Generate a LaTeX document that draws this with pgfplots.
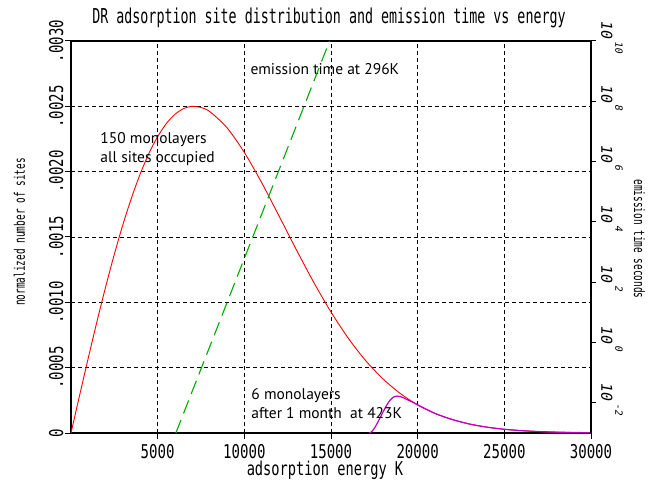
\documentclass[border=0pt]{standalone}
\usepackage{fontspec}
\setmainfont{PT Sans}
\usepackage{pgfplots}
\usepackage{pgfplotstable}
\pgfplotsset{compat=1.18}
\newfontfamily\fmonoA[FakeStretch=0.65]{DejaVu Sans Mono}
\newfontfamily\fmonoB[FakeStretch=0.74]{DejaVu Sans Mono}
\newfontfamily\fmonoC[FakeStretch=0.72]{DejaVu Sans Mono}
\newfontfamily\fmonoO[FakeSlant=0.18]{DejaVu Sans Mono}
\newcommand\ftitle{\fmonoA\fontsize{20.5}{22}\selectfont}
\newcommand\fylab{\fmonoA\fontsize{14.5}{16}\selectfont}
\newcommand\ftick{\fmonoB\fontsize{19}{20}\selectfont}
\newcommand\fxlab{\fmonoC\fontsize{19}{21}\selectfont}
\newcommand\fann{\fontsize{15.5}{17}\selectfont}
\newcommand\rtl[1]{\rotatebox{-90}{{\fmonoO\fontsize{15}{15}\selectfont 10}\hspace{2.5pt}\raisebox{14pt}{\fmonoO\fontsize{10}{10}\selectfont #1}}}
\definecolor{cred}{RGB}{255,0,0}
\definecolor{cmag}{RGB}{190,0,190}
\definecolor{cgreen}{RGB}{0,170,0}

\pgfplotstableread{
E y
0 0
500 0.0002904
1000 0.000576
1500 0.000854
2000 0.001119
2500 0.001368
3000 0.001597
3500 0.001803
4000 0.001985
4500 0.002141
5000 0.002268
5500 0.002368
6000 0.002439
6500 0.002483
7000 0.002500
7500 0.002491
8000 0.002460
9000 0.002336
10000 0.002147
11000 0.001916
12000 0.001661
13000 0.001403
14000 0.001154
15000 0.000926
16000 0.000725
17000 0.000554
18000 0.000414
19000 0.000302
20000 0.000215
21000 0.000150
22000 0.000103
23000 0.0000684
24000 0.0000447
25000 0.0000285
26000 0.0000178
27000 0.0000109
28000 0.0000065
29000 0.0000038
30000 0.0000022
}\redtab

\pgfplotstableread{
E y
17200 0
17300 0.000005
17400 0.000018
17500 0.000036
17600 0.000058
17800 0.000108
18000 0.000160
18200 0.000210
18400 0.000250
18600 0.000275
18800 0.000283
19000 0.000279
19200 0.000268
19400 0.000255
19600 0.000242
19800 0.000230
20000 0.000215
21000 0.000150
22000 0.000103
23000 0.0000684
24000 0.0000447
25000 0.0000285
26000 0.0000178
27000 0.0000109
28000 0.0000065
29000 0.0000038
30000 0.0000022
}\magtab

\begin{document}
\begin{tikzpicture}
\begin{axis}[name=main, scale only axis, width=520pt, height=392pt,
  xmin=0, xmax=30000, ymin=0, ymax=0.003,
  xtick={5000,10000,15000,20000,25000,30000},
  xticklabels={5000,10000,15000,20000,25000,30000},
  ytick={0,0.0005,0.001,0.0015,0.002,0.0025,0.003},
  yticklabels={\rotatebox{90}{0},\rotatebox{90}{.0005},\rotatebox{90}{.0010},\rotatebox{90}{.0015},\rotatebox{90}{.0020},\rotatebox{90}{.0025},\rotatebox{90}{.0030}},
  scaled x ticks=false, scaled y ticks=false,
  xtick pos=bottom, ytick pos=left, tick align=outside,
  major tick length=6pt,
  tick style={black, line width=1pt},
  axis line style={black, line width=1.6pt},
  grid=major, grid style={black, line width=0.7pt, dash pattern=on 4pt off 3pt},
  xticklabel style={font=\ftick, anchor=north, inner sep=0pt},
  yticklabel style={font=\ftick, anchor=east, inner sep=0pt},
  xticklabel shift=5pt, yticklabel shift=1.4pt,
]
\addplot[cred, line width=0.9pt, smooth] table[x=E,y=y]{\redtab};
\addplot[cmag, line width=1.2pt, smooth] table[x=E,y=y]{\magtab};
\node[font=\fann, anchor=base west, inner sep=0pt] at (axis cs:1690,0.002219) {150 monolayers};
\node[font=\fann, anchor=base west, inner sep=0pt] at (axis cs:1690,0.002072) {all sites occupied};
\node[font=\fann, anchor=base west, inner sep=0pt] at (axis cs:10346,0.002741) {emission time at 296K};
\node[font=\fann, anchor=base west, inner sep=0pt] at (axis cs:10400,0.000258) {6 monolayers};
\node[font=\fann, anchor=base west, inner sep=0pt] at (axis cs:10400,0.000109) {after 1 month~ at 423K};
\end{axis}
\begin{axis}[scale only axis, width=520pt, height=392pt,
  xmin=0, xmax=30000, ymode=log, ymin=1e-3, ymax=1e10,
  axis x line=none, axis y line*=right,
  ytick={1e-2,1,1e2,1e4,1e6,1e8,1e10},
  yticklabels={\rtl{-2},\rtl{0},\rtl{2},\rtl{4},\rtl{6},\rtl{8},\rtl{10}},
  yminorticks=false, tick align=outside, major tick length=5pt,
  tick style={black, line width=1pt},
  axis line style={black, line width=1.6pt},
  yticklabel style={anchor=west, inner sep=0pt, yshift=4pt},
  yticklabel shift=5pt,
]
\addplot[cgreen, line width=1.1pt, dash pattern=on 14pt off 7pt] coordinates {(6050,0.001) (14920,1e10)};
\end{axis}
\node[font=\ftitle, anchor=base] at ([yshift=17pt,xshift=-2pt]main.north) {DR adsorption site distribution and emission time vs energy};
\node[font=\fxlab, anchor=base] at ([yshift=-42.5pt,xshift=-6pt]main.south) {adsorption energy K};
\node[font=\fylab, anchor=base, rotate=90] at ([xshift=-46pt,yshift=5pt]main.west) {normalized number of sites};
\node[font=\fylab, anchor=base, rotate=-90] at ([xshift=43pt,yshift=-2pt]main.east) {emission time seconds};
\pgfresetboundingbox
\path[use as bounding box] ([xshift=-71pt,yshift=-48pt]main.south west) rectangle ([xshift=61pt,yshift=41pt]main.north east);
\end{tikzpicture}
\end{document}
